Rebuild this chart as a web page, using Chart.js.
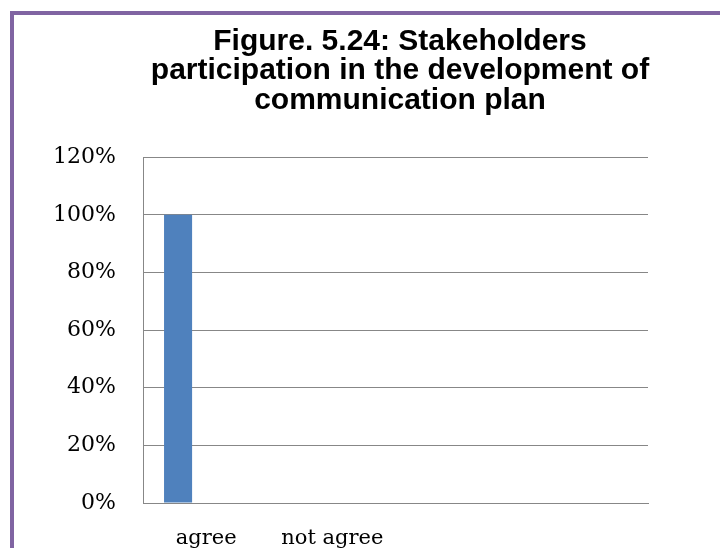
<!DOCTYPE html>
<html>
<head>
<meta charset="utf-8">
<script src="https://cdn.jsdelivr.net/npm/chart.js@4/dist/chart.umd.min.js"></script>
<style>
  html, body { margin: 0; padding: 0; background: #fff; overflow: hidden; }
  #frame {
    position: absolute; left: 10px; top: 11px;
    border-left: 4px solid #8064a2; border-top: 4px solid #8064a2;
    width: 772px; height: 560px;
  }
  canvas { display: block; }
</style>
</head>
<body>
<div id="frame"><canvas id="grafico" width="772" height="560"></canvas></div>
<script>
// categorias e séries
var categorias = ["agree", "not agree", "", ""];
var serie1 = [1.00, 0.00, null, null];
var serie2 = [null, null, null, null];
var serie3 = [null, null, null, null];

// eixo y
var yMin = 0, yMax = 1.2, yPasso = 0.2;

var tituloLinhas = [
  "Figure. 5.24: Stakeholders",
  "participation in the development of",
  "communication plan"
];

var corGrade = "#878787";
var fonteSerif = "'DejaVu Serif', serif";

var ctx = document.getElementById("grafico");

var grafico = new Chart(ctx, {
  type: "bar",
  data: {
    labels: categorias,
    datasets: [
      { label: "Series1", data: serie1, backgroundColor: "#4f81bd" },
      { label: "Series2", data: serie2, backgroundColor: "#c0504d" },
      { label: "Series3", data: serie3, backgroundColor: "#9bbb59" }
    ]
  },
  options: {
    responsive: false,
    animation: false,
    categoryPercentage: 3 / 4.5,
    barPercentage: 1.0,
    layout: { padding: { left: 0, right: 0, top: 0, bottom: 12 } },
    plugins: {
      legend: { display: false },
      tooltip: { enabled: false },
      title: {
        display: true,
        text: tituloLinhas,
        color: "#000",
        font: { family: "'Liberation Sans', Arial, sans-serif", size: 30, weight: "bold", lineHeight: 0.98 },
        padding: { top: 12, bottom: 42 }
      }
    },
    scales: {
      x: {
        grid: { display: false, drawTicks: false },
        border: { display: true, color: corGrade, width: 1 },
        ticks: { color: "#000", font: { family: fonteSerif, size: 21 }, padding: 23, maxRotation: 0 },
        afterFit: function (escala) { escala.height = 60; }
      },
      y: {
        min: yMin,
        max: yMax,
        grid: { color: corGrade, lineWidth: 1, drawTicks: false },
        border: { display: true, color: corGrade, width: 1 },
        ticks: {
          stepSize: yPasso,
          color: "#000",
          font: { family: fonteSerif, size: 22 },
          padding: 27,
          callback: function (v) { return Math.round(v * 100) + "%"; }
        },
        afterFit: function (escala) { escala.width = 129; }
      },
      // espaço vazio à direita da área do gráfico (onde ficaria a legenda)
      espacoDireita: {
        position: "right",
        grid: { display: false, drawTicks: false },
        border: { display: false },
        ticks: { display: false },
        afterFit: function (escala) { escala.width = 138; }
      }
    }
  }
});
</script>
</body>
</html>
